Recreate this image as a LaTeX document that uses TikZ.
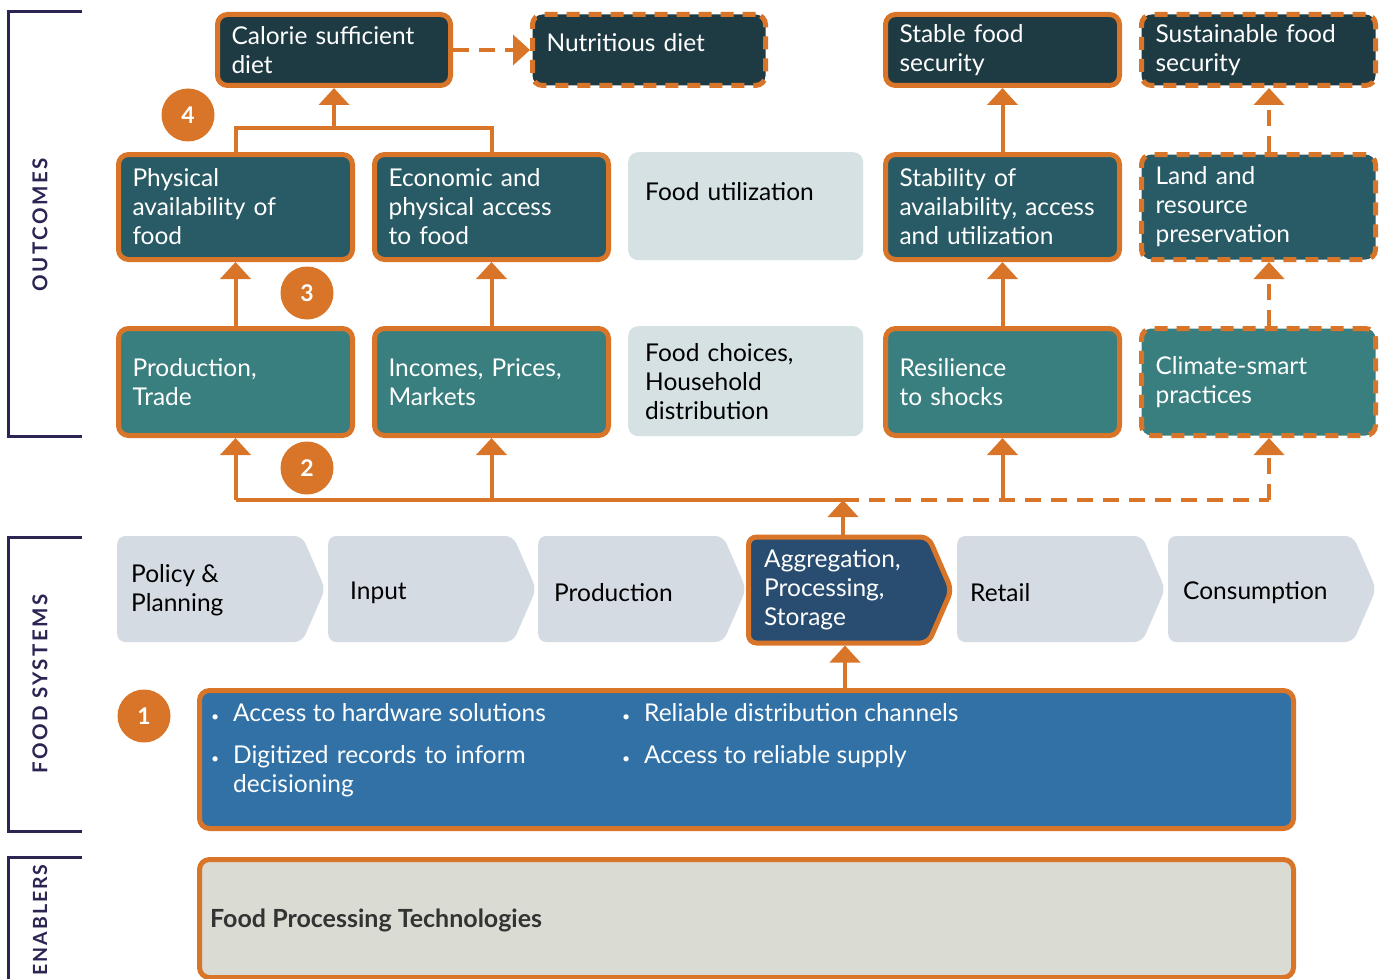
\documentclass[tikz,border=0pt]{standalone}
\usepackage{fontspec}
\setmainfont{Lato}
\usetikzlibrary{arrows.meta,shapes.symbols}
\definecolor{org}{HTML}{D97528}
\definecolor{rowA}{HTML}{1E3B44}
\definecolor{rowB}{HTML}{285B65}
\definecolor{rowC}{HTML}{3A7F80}
\definecolor{lgrey}{HTML}{D5E1E3}
\definecolor{chgrey}{HTML}{D5DBE3}
\definecolor{aggblue}{HTML}{284D70}
\definecolor{midblue}{HTML}{3171A5}
\definecolor{enabgrey}{HTML}{DADBD2}
\definecolor{purp}{HTML}{2D2454}
\definecolor{dtext}{HTML}{333333}
\tikzset{
  mainfont/.style={font=\fontsize{24.5}{29}\selectfont},
  obox/.style={mainfont, draw=org, line width=5pt, rounded corners=10pt, text=white,
    align=left, inner xsep=14pt, inner ysep=0pt, anchor=north west},
  dbox/.style={obox, dash pattern=on 13pt off 9pt},
  lbox/.style={mainfont, rounded corners=10pt, fill=lgrey, text=black, align=left,
    inner xsep=17pt, inner ysep=0pt, anchor=north west},
  chev/.style={shape=signal, signal to=east, signal from=nowhere, signal pointer angle=133,
    fill=chgrey, rounded corners=8pt, minimum width=208pt, minimum height=106pt,
    inner sep=0pt, anchor=west},
  chtext/.style={mainfont, text=black, align=left, anchor=west, inner sep=0pt},
  conn/.style={draw=org, line width=4pt, -{Triangle[width=30pt,length=17pt]}},
  connline/.style={draw=org, line width=4pt},
  dconn/.style={conn, dash pattern=on 16pt off 10pt},
  dline/.style={connline, dash pattern=on 16pt off 10pt},
  num/.style={circle, fill=org, text=white, minimum size=53pt, inner sep=0pt,
    font=\fontsize{23}{26}\selectfont\bfseries},
  brk/.style={draw=purp, line width=3pt},
  brklabel/.style={rotate=90, text=purp, font=\fontsize{20.5}{24}\selectfont\bfseries\addfontfeature{LetterSpace=12}},
  itemtext/.style={mainfont, text=white, align=left, anchor=base west, inner sep=0pt},
}
\begin{document}
\begin{tikzpicture}[x=1pt,y=-1pt]
\useasboundingbox[fill=white] (0,0) rectangle (1381,979);

% brackets
\draw[brk] (82,12) -- (8,12) -- (8,436) -- (82,436);
\draw[brk] (82,537) -- (8,537) -- (8,831) -- (82,831);
\draw[brk] (82,857) -- (8,857) -- (8,981);
\node[brklabel] (lo) at (40,225) {OUTCOMES};
\node[brklabel] (lf) at (40,684) {FOOD SYSTEMS};
\node[brklabel, font=\fontsize{19.5}{24}\selectfont\bfseries\addfontfeature{LetterSpace=10}] (le) at (40,920) {ENABLERS};

% row 1
\node[obox, fill=rowA, minimum width=233pt, minimum height=71pt, text width=205pt] (cal) at (215,12) {Calorie sufficient\\diet};
\node[dbox, fill=rowA, minimum width=233pt, minimum height=71pt, text width=205pt] (nut) at (530,12) {Nutritious diet\\[-13pt]\mbox{}};
\node[obox, fill=rowA, minimum width=234pt, minimum height=71pt, text width=206pt] (stab) at (883,12) {Stable food\\security};
\node[dbox, fill=rowA, minimum width=234pt, minimum height=71pt, text width=206pt] (sust) at (1139,12) {Sustainable food\\security};

% row 2
\node[obox, fill=rowB, minimum width=234pt, minimum height=105pt, text width=206pt] (phys) at (116,152) {Physical\\availability of\\food};
\node[obox, fill=rowB, minimum width=234pt, minimum height=105pt, text width=206pt] (econ) at (372,152) {Economic and\\physical access\\to food};
\node[lbox, minimum width=235pt, minimum height=108pt, text width=201pt] (util) at (628,152) {Food utilization\\\mbox{}};
\node[obox, fill=rowB, minimum width=234pt, minimum height=105pt, text width=206pt] (stabil) at (883,152) {Stability of\\availability, access\\and utilization};
\node[dbox, fill=rowB, minimum width=234pt, minimum height=105pt, text width=206pt] (land) at (1139,152) {Land and\\resource\\preservation};

% row 3
\node[obox, fill=rowC, minimum width=234pt, minimum height=107pt, text width=206pt] (prod) at (116,326) {Production,\\Trade};
\node[obox, fill=rowC, minimum width=234pt, minimum height=107pt, text width=206pt] (inc) at (372,326) {Incomes, Prices,\\Markets};
\node[lbox, minimum width=235pt, minimum height=110pt, text width=201pt] (choice) at (628,326) {Food choices,\\Household\\distribution};
\node[obox, fill=rowC, minimum width=234pt, minimum height=107pt, text width=206pt] (res) at (883,326) {Resilience\\to shocks};
\node[dbox, fill=rowC, minimum width=234pt, minimum height=107pt, text width=206pt] (clim) at (1139,326) {Climate-smart\\practices};

% chevrons
\node[chev] (pol) at (117,589) {};
\node[chev] (inp) at (328,589) {};
\node[chev] (prd) at (538,589) {};
\node[chev, fill=aggblue, draw=org, line width=5pt, minimum width=203pt, minimum height=106pt] (agg) at (746,590) {};
\node[chev] (ret) at (957,589) {};
\node[chev] (con) at (1168,589) {};
\node[chtext] (polt) at (131,590) {Policy \&\\Planning};
\node[chtext] (inpt) at (350,593) {Input};
\node[chtext] (prdt) at (554,593) {Production};
\node[chtext, text=white] (aggt) at (764,590) {Aggregation,\\Processing,\\Storage};
\node[chtext] (rett) at (970,593) {Retail};
\node[chtext] (cont) at (1183,593) {Consumption};

% blue box
\node[draw=org, line width=5pt, rounded corners=10pt, fill=midblue, minimum width=1094pt, minimum height=138pt, anchor=north west, inner sep=0pt] (blue) at (197,688) {};
\node[itemtext] (i1) at (233,721) {\llap{\fontsize{14}{14}\selectfont•\hspace{14pt}}Access to hardware solutions};
\node[itemtext, text width=360pt, anchor=north west] (i2) at (233,745) {\llap{\fontsize{14}{14}\selectfont•\hspace{14pt}}Digitized records to inform\\decisioning};
\node[itemtext] (i3) at (644,721) {\llap{\fontsize{14}{14}\selectfont•\hspace{14pt}}Reliable distribution channels};
\node[itemtext] (i4) at (644,763) {\llap{\fontsize{14}{14}\selectfont•\hspace{14pt}}Access to reliable supply};

% enablers box
\node[draw=org, line width=5pt, rounded corners=10pt, fill=enabgrey, minimum width=1094pt, minimum height=118pt, anchor=north west, inner sep=0pt] (enab) at (197,857) {};
\node[anchor=west, inner sep=0pt, text=dtext, font=\fontsize{25}{29}\selectfont\bfseries] (enabt) at (210,920) {Food Processing Technologies};

% numbers
\node[num] (n4) at (188,115) {4};
\node[num] (n3) at (307,293) {3};
\node[num] (n2) at (307,468) {2};
\node[num] (n1) at (144,716) {1};

% connectors
\coordinate (bus) at (0,500);
\coordinate (split) at (843,500);
\coordinate (up) at (845,0);
\coordinate (rc) at (1269,0);
\coordinate (jy) at (0,128);
\draw[connline] (prod.south |- bus) -- (split);
\draw[dline] (split) -- (rc |- bus);
\draw[conn] (split |- agg.north) -- (split);
\draw[conn] (up |- blue.north) -- (up |- agg.south);
\draw[conn] (prod.south |- bus) -- (prod.south);
\draw[conn] (inc.south |- bus) -- (inc.south);
\draw[conn] (res.south |- bus) -- (res.south);
\draw[dconn] (rc |- bus) -- (rc |- clim.south);

\draw[conn] (prod.north) -- (phys.south);
\draw[conn] (inc.north) -- (econ.south);
\draw[conn] (res.north) -- (stabil.south);
\draw[dconn] (rc |- clim.north) -- (rc |- land.south);

\draw[connline] (phys.north) -- (phys.north |- jy) -- (econ.north |- jy) -- (econ.north);
\draw[conn] (cal.south |- jy) -- (cal.south);
\draw[conn] (stabil.north) -- (stab.south);
\draw[dconn] (rc |- land.north) -- (rc |- sust.south);
\draw[dconn] (cal.east) -- (nut.west);
\end{tikzpicture}
\end{document}
